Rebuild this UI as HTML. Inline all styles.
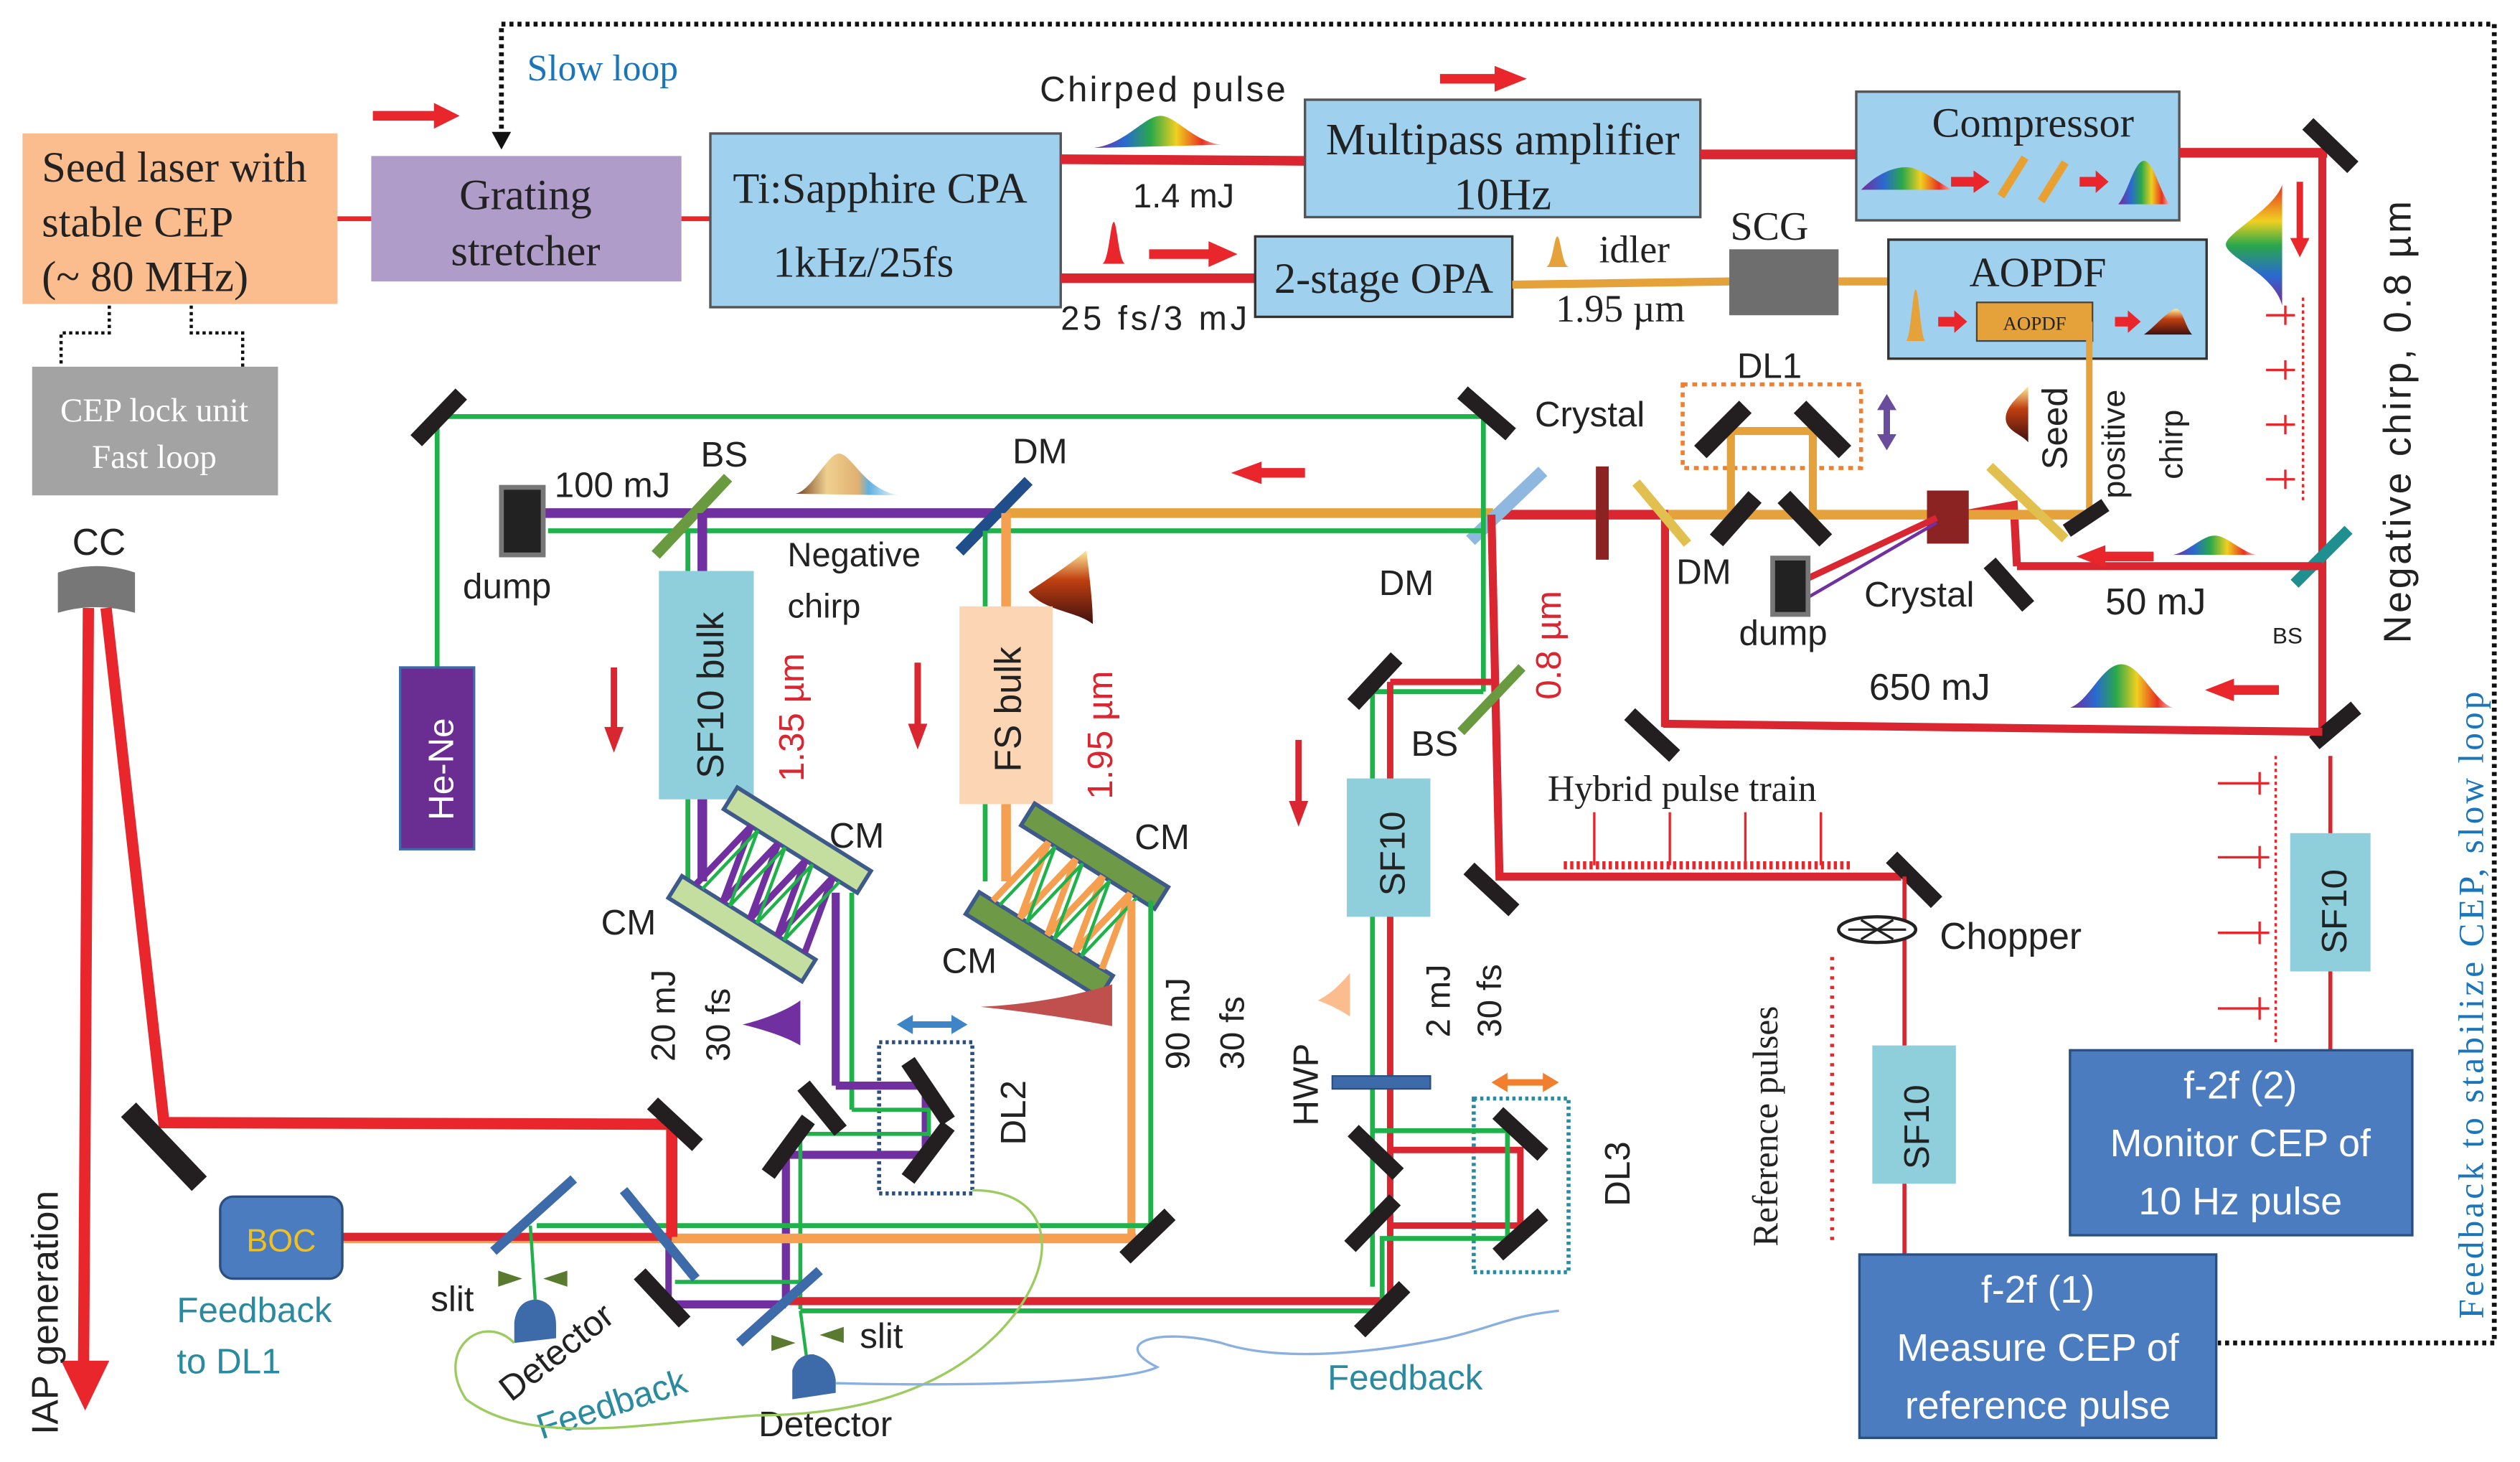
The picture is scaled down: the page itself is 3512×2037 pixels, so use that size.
<!DOCTYPE html>
<html><head><meta charset="utf-8"><style>
html,body{margin:0;padding:0;background:#fff;}
svg{display:block;}
.s{font-family:"Liberation Sans",sans-serif;}
.r{font-family:"Liberation Serif",serif;}
</style></head><body>
<svg width="3512" height="2037" viewBox="0 0 1568 909" preserveAspectRatio="none" xmlns="http://www.w3.org/2000/svg">
<defs>
<linearGradient id="rb" x1="0" x2="1" y1="0" y2="0">
<stop offset="0" stop-color="#7a2a9a"/><stop offset="0.25" stop-color="#2a6ad0"/><stop offset="0.45" stop-color="#2aa84a"/><stop offset="0.65" stop-color="#f0d020"/><stop offset="0.85" stop-color="#e83020"/><stop offset="1" stop-color="#f8c0c0"/></linearGradient>
<linearGradient id="rbv" x1="0" x2="0" y1="0" y2="1">
<stop offset="0" stop-color="#e83020"/><stop offset="0.3" stop-color="#f0d020"/><stop offset="0.5" stop-color="#2aa84a"/><stop offset="0.75" stop-color="#2a6ad0"/><stop offset="1" stop-color="#7a2a9a"/></linearGradient>
<linearGradient id="br" x1="0" x2="0" y1="0" y2="1"><stop offset="0" stop-color="#fff0a0"/><stop offset="0.4" stop-color="#c04010"/><stop offset="1" stop-color="#401010"/></linearGradient>
<linearGradient id="nc" x1="0" x2="1"><stop offset="0" stop-color="#704020"/><stop offset="0.3" stop-color="#f0d090"/><stop offset="0.6" stop-color="#e0b070"/><stop offset="0.7" stop-color="#60b0e0"/><stop offset="1" stop-color="#fff"/></linearGradient>
</defs>

<polyline points="312,85 312,15 1552,15 1552,835 1380,835" fill="none" stroke="#111" stroke-width="3" stroke-dasharray="2.5,2.5"/>
<polygon points="306,82 318,82 312,93" fill="#111"/>
<text x="328" y="50" class="r" font-size="23" fill="#1b75bb">Slow loop</text>

<rect x="14" y="83" width="196" height="106" fill="#fbbd8d"/>
<text class="r" font-size="27" fill="#222"><tspan x="26" y="113">Seed laser with</tspan><tspan x="26" y="147">stable CEP</tspan><tspan x="26" y="181">(~ 80 MHz)</tspan></text>
<line x1="210" y1="136" x2="231" y2="136" stroke="#e8262b" stroke-width="3"/>
<rect x="231" y="97" width="193" height="78" fill="#b09cc8"/>
<text class="r" font-size="27" fill="#222" text-anchor="middle"><tspan x="327" y="130">Grating</tspan><tspan x="327" y="165">stretcher</tspan></text>
<line x1="424" y1="136" x2="442" y2="136" stroke="#e8262b" stroke-width="3"/>
<rect x="442" y="83" width="218" height="108" fill="#9fd0ee" stroke="#555" stroke-width="1.5"/>
<text class="r" font-size="27" fill="#222"><tspan x="456" y="126">Ti:Sapphire CPA</tspan><tspan x="481" y="172">1kHz/25fs</tspan></text>
<polygon points="232,69 270,69 270,64 286,72 270,80 270,75 232,75" fill="#e8262b"/>

<rect x="20" y="228" width="153" height="80" fill="#a3a3a3"/>
<text class="r" font-size="21" fill="#fff" text-anchor="middle"><tspan x="96" y="262">CEP lock unit</tspan><tspan x="96" y="291">Fast loop</tspan></text>
<polyline points="68,190 68,207 38,207 38,228" fill="none" stroke="#111" stroke-width="2" stroke-dasharray="2,2"/>
<polyline points="119,190 119,207 151,207 151,228" fill="none" stroke="#111" stroke-width="2" stroke-dasharray="2,2"/>

<line x1="660" y1="99" x2="812" y2="100" stroke="#d92630" stroke-width="6"/>
<text x="647" y="63" class="s" font-size="22" fill="#222" textLength="153">Chirped pulse</text>
<path d="M680,92 C700,90 712,72 722,72 C732,72 742,88 760,90 Z" fill="url(#rb)"/>
<text x="705" y="129" class="s" font-size="21" fill="#222">1.4 mJ</text>
<rect x="812" y="62" width="246" height="73" fill="#9fd0ee" stroke="#555" stroke-width="1.5"/>
<text class="r" font-size="28" fill="#222" text-anchor="middle"><tspan x="935" y="96">Multipass amplifier</tspan><tspan x="935" y="130">10Hz</tspan></text>
<polygon points="896,46 930,46 930,41 950,49 930,57 930,52 896,52" fill="#e8262b"/>
<line x1="1058" y1="96" x2="1155" y2="96" stroke="#d92630" stroke-width="6"/>
<rect x="1155" y="57" width="201" height="80" fill="#9fd0ee" stroke="#555" stroke-width="1.5"/>
<text x="1265" y="85" class="r" font-size="26" fill="#222" text-anchor="middle">Compressor</text>
<path d="M1158,118 C1168,108 1178,104 1186,104 C1196,104 1206,114 1215,118 Z" fill="url(#rb)"/>
<polygon points="1214,110 1228,110 1228,106 1238,113 1228,120 1228,116 1214,116" fill="#e8262b"/>
<line x1="1245" y1="122" x2="1260" y2="98" stroke="#e8a030" stroke-width="5"/>
<line x1="1270" y1="125" x2="1285" y2="101" stroke="#e8a030" stroke-width="5"/>
<polygon points="1294,110 1304,110 1304,106 1312,113 1304,120 1304,116 1294,116" fill="#e8262b"/>
<path d="M1318,127 C1324,120 1328,100 1334,100 C1340,100 1344,120 1350,127 Z" fill="url(#rb)"/>
<line x1="1356" y1="95" x2="1448" y2="95" stroke="#d92630" stroke-width="6"/>

<line x1="660" y1="173" x2="781" y2="173" stroke="#d92630" stroke-width="6"/>
<path d="M686,164 C690,162 691,138 693,138 C695,138 696,162 700,164 Z" fill="#e8262b"/>
<polygon points="715,155 752,155 752,150 770,158 752,166 752,161 715,161" fill="#e8262b"/>
<text x="660" y="205" class="s" font-size="21" fill="#222" textLength="116">25 fs/3 mJ</text>
<rect x="781" y="147" width="160" height="50" fill="#9fd0ee" stroke="#333" stroke-width="1.5"/>
<text x="861" y="182" class="r" font-size="27" fill="#222" text-anchor="middle">2-stage OPA</text>
<line x1="941" y1="177" x2="1077" y2="175" stroke="#e6a23a" stroke-width="5"/>
<path d="M962,166 C966,165 967,147 969,147 C971,147 972,165 976,166 Z" fill="#e6a23a"/>
<text x="995" y="163" class="r" font-size="24" fill="#222">idler</text>
<text x="968" y="200" class="r" font-size="24" fill="#222">1.95 µm</text>
<text x="1101" y="149" class="r" font-size="25" fill="#222" text-anchor="middle">SCG</text>
<rect x="1076" y="155" width="68" height="41" fill="#6e6e6e"/>
<line x1="1144" y1="175" x2="1175" y2="175" stroke="#e6a23a" stroke-width="5"/>
<rect x="1175" y="149" width="198" height="74" fill="#9fd0ee" stroke="#333" stroke-width="1.5"/>
<text x="1268" y="178" class="r" font-size="26" fill="#222" text-anchor="middle">AOPDF</text>
<path d="M1186,212 C1189,210 1190,180 1192,180 C1194,180 1195,210 1198,212 Z" fill="#e6a23a"/>
<polygon points="1206,197 1216,197 1216,193 1224,200 1216,207 1216,203 1206,203" fill="#e8262b"/>
<rect x="1230" y="188" width="72" height="24" fill="#e6a23a" stroke="#444" stroke-width="1"/>
<text x="1266" y="205" class="r" font-size="12" fill="#222" text-anchor="middle">AOPDF</text>
<polygon points="1316,197 1324,197 1324,193 1332,200 1324,207 1324,203 1316,203" fill="#e8262b"/>
<path d="M1334,208 C1340,204 1350,192 1354,192 C1358,192 1360,204 1364,208 Z" fill="url(#br)"/>

<line x1="1445" y1="95" x2="1445" y2="455" stroke="#d92630" stroke-width="5"/>
<line x1="1436" y1="77" x2="1464" y2="104" stroke="#231f20" stroke-width="10"/>
<path d="M1420,115 C1415,130 1385,145 1385,152 C1385,160 1415,170 1420,190 Z" fill="url(#rbv)"/>
<polygon points="1429,113 1433,113 1433,148 1437,148 1431,160 1425,148 1429,148" fill="#e8262b"/>
<text transform="translate(1500,400) rotate(-90)" class="s" font-size="24" fill="#222" textLength="275">Negative chirp, 0.8 µm</text>
<g stroke="#e8262b" stroke-width="1.5">
<line x1="1433" y1="185" x2="1433" y2="312" stroke-dasharray="2,2"/>
<line x1="1410" y1="196" x2="1428" y2="196"/><line x1="1422" y1="190" x2="1422" y2="202"/>
<line x1="1410" y1="230" x2="1428" y2="230"/><line x1="1422" y1="224" x2="1422" y2="236"/>
<line x1="1410" y1="264" x2="1428" y2="264"/><line x1="1422" y1="258" x2="1422" y2="270"/>
<line x1="1410" y1="298" x2="1428" y2="298"/><line x1="1422" y1="292" x2="1422" y2="304"/>
</g>
<line x1="1423" y1="356" x2="1466" y2="336" stroke="#1f8f8f" stroke-width="7" transform="rotate(-20 1445 346)"/>
<text x="1414" y="400" class="s" font-size="14" fill="#222">BS</text>
<line x1="1445" y1="352" x2="1255" y2="352" stroke="#d92630" stroke-width="5"/>
<polygon points="1340,343 1310,343 1310,339 1292,346 1310,353 1310,349 1340,349" fill="#e8262b"/>
<path d="M1352,345 C1362,343 1370,333 1378,333 C1386,333 1394,343 1404,345 Z" fill="url(#rb)"/>
<text x="1310" y="382" class="s" font-size="23" fill="#222">50 mJ</text>
<polyline points="1255,352 1253,314 1210,322" fill="none" stroke="#d92630" stroke-width="5"/>
<line x1="1238" y1="350" x2="1262" y2="377" stroke="#231f20" stroke-width="10"/>
<line x1="1440" y1="462" x2="1466" y2="440" stroke="#231f20" stroke-width="10"/>
<line x1="1445" y1="455" x2="1035" y2="450" stroke="#d92630" stroke-width="5"/>
<polygon points="1418,426 1390,426 1390,422 1372,429 1390,436 1390,432 1418,432" fill="#e8262b"/>
<path d="M1288,440 C1300,436 1308,413 1320,413 C1332,413 1340,436 1352,440 Z" fill="url(#rb)"/>
<text x="1163" y="435" class="s" font-size="23" fill="#222">650 mJ</text>
<line x1="1036" y1="320" x2="1036" y2="452" stroke="#d92630" stroke-width="5"/>
<line x1="1014" y1="444" x2="1042" y2="470" stroke="#231f20" stroke-width="10"/>
<line x1="1450" y1="470" x2="1450" y2="653" stroke="#d92630" stroke-width="2.5"/>
<rect x="1425" y="518" width="50" height="86" fill="#8fcfdc"/>
<text transform="translate(1460,593) rotate(-90)" class="s" font-size="22" fill="#222">SF10</text>
<g stroke="#e8262b" stroke-width="1.5">
<line x1="1416" y1="470" x2="1416" y2="648" stroke-dasharray="2,2"/>
<line x1="1380" y1="487" x2="1412" y2="487"/><line x1="1406" y1="480" x2="1406" y2="494"/>
<line x1="1380" y1="533" x2="1412" y2="533"/><line x1="1406" y1="526" x2="1406" y2="540"/>
<line x1="1380" y1="580" x2="1412" y2="580"/><line x1="1406" y1="573" x2="1406" y2="587"/>
<line x1="1380" y1="627" x2="1412" y2="627"/><line x1="1406" y1="620" x2="1406" y2="634"/>
</g>
<rect x="1288" y="653" width="213" height="115" fill="#4a7cbf" stroke="#2a4f80" stroke-width="1.5"/>
<text class="s" font-size="24" fill="#fff" text-anchor="middle"><tspan x="1394" y="683">f-2f (2)</tspan><tspan x="1394" y="719">Monitor CEP of</tspan><tspan x="1394" y="755">10 Hz pulse</tspan></text>
<text transform="translate(1545,820) rotate(-90)" class="r" font-size="22" fill="#1b75bb" textLength="390">Feedback to stabilize CEP, slow loop</text>

<line x1="318" y1="319" x2="623" y2="319" stroke="#7030a0" stroke-width="6"/>
<line x1="623" y1="319" x2="929" y2="319" stroke="#e6a23a" stroke-width="6"/>
<line x1="929" y1="320" x2="1038" y2="320" stroke="#d92630" stroke-width="6"/>
<line x1="1038" y1="320" x2="1300" y2="320" stroke="#e6a23a" stroke-width="6"/>
<polyline points="1300,200 1300,320" fill="none" stroke="#e6a23a" stroke-width="4"/>
<line x1="1286" y1="330" x2="1310" y2="314" stroke="#231f20" stroke-width="9"/>
<rect x="1047" y="239" width="111" height="52" fill="none" stroke="#f08030" stroke-width="2.5" stroke-dasharray="3,3"/>
<text x="1101" y="235" class="s" font-size="22" fill="#222" text-anchor="middle">DL1</text>
<polyline points="1077,320 1077,268 1128,268 1128,320" fill="none" stroke="#e6a23a" stroke-width="5"/>
<line x1="1058" y1="281" x2="1086" y2="253" stroke="#231f20" stroke-width="11"/>
<line x1="1120" y1="253" x2="1148" y2="281" stroke="#231f20" stroke-width="11"/>
<line x1="1068" y1="336" x2="1092" y2="309" stroke="#231f20" stroke-width="11"/>
<line x1="1110" y1="309" x2="1136" y2="336" stroke="#231f20" stroke-width="11"/>
<polygon points="1174,245 1180,255 1176,255 1176,270 1180,270 1174,280 1168,270 1172,270 1172,255 1168,255" fill="#6a4c9c"/>
<text x="955" y="265" class="s" font-size="22" fill="#222">Crystal</text>
<rect x="993" y="290" width="8" height="58" fill="#8b2323"/>
<line x1="1018" y1="300" x2="1050" y2="338" stroke="#e2c050" stroke-width="6"/>
<text x="1043" y="363" class="s" font-size="22" fill="#222">DM</text>
<rect x="1199" y="305" width="26" height="33" fill="#8b2323"/>
<line x1="1238" y1="290" x2="1285" y2="335" stroke="#e2c050" stroke-width="6"/>
<polyline points="1124,360 1205,322" fill="none" stroke="#d92630" stroke-width="4"/>
<polyline points="1124,372 1205,325" fill="none" stroke="#7030a0" stroke-width="2"/>
<rect x="1103" y="347" width="22" height="35" fill="#222" stroke="#777" stroke-width="3"/>
<text x="1082" y="401" class="s" font-size="22" fill="#222">dump</text>
<text x="1160" y="377" class="s" font-size="22" fill="#222">Crystal</text>
<path d="M1262,275 C1258,270 1248,268 1248,260 C1248,252 1258,245 1262,240 Z" fill="url(#br)"/>
<text transform="translate(1286,292) rotate(-90)" class="s" font-size="22" fill="#222">Seed</text>
<text transform="translate(1322,310) rotate(-90)" class="s" font-size="20" fill="#222">positive</text>
<text transform="translate(1358,298) rotate(-90)" class="s" font-size="20" fill="#222">chirp</text>

<line x1="915" y1="336" x2="960" y2="293" stroke="#8fb8e0" stroke-width="8"/>
<text x="858" y="370" class="s" font-size="22" fill="#222">DM</text>
<polygon points="812,291 785,291 785,287 766,294 785,301 785,297 812,297" fill="#e8262b"/>
<text transform="translate(971,435) rotate(-90)" class="s" font-size="22" fill="#d92630">0.8 µm</text>

<polyline points="272,415 272,259 923,259 923,430" fill="none" stroke="#1fb24a" stroke-width="3"/>
<line x1="341" y1="330" x2="923" y2="330" stroke="#1fb24a" stroke-width="3"/>
<line x1="259" y1="274" x2="287" y2="245" stroke="#231f20" stroke-width="10"/>
<line x1="910" y1="244" x2="940" y2="270" stroke="#231f20" stroke-width="10"/>
<rect x="249" y="415" width="46" height="113" fill="#6a2d91" stroke="#3d6aa8" stroke-width="1.5"/>
<text transform="translate(282,510) rotate(-90)" class="s" font-size="22" fill="#fff">He-Ne</text>

<rect x="312" y="303" width="26" height="42" fill="#222" stroke="#777" stroke-width="3"/>
<text x="288" y="372" class="s" font-size="22" fill="#222">dump</text>
<text x="345" y="309" class="s" font-size="22" fill="#222">100 mJ</text>
<text x="436" y="290" class="s" font-size="22" fill="#222">BS</text>
<line x1="408" y1="345" x2="453" y2="297" stroke="#6a9a40" stroke-width="7"/>
<path d="M495,307 C505,305 515,282 522,282 C530,282 538,305 560,308 Z" fill="url(#nc)"/>
<text x="630" y="288" class="s" font-size="22" fill="#222">DM</text>
<line x1="597" y1="343" x2="640" y2="299" stroke="#1f4e8a" stroke-width="7"/>
<text class="s" font-size="21" fill="#222"><tspan x="490" y="352">Negative</tspan><tspan x="490" y="384">chirp</tspan></text>
<path d="M640,368 C652,360 670,348 676,342 C678,360 680,375 680,388 C670,380 650,380 640,368 Z" fill="url(#br)"/>

<line x1="428" y1="330" x2="428" y2="548" stroke="#1fb24a" stroke-width="3"/>
<line x1="437" y1="319" x2="437" y2="548" stroke="#7030a0" stroke-width="6"/>
<rect x="410" y="355" width="59" height="142" fill="#8fcfdc"/>
<text transform="translate(450,484) rotate(-90)" class="s" font-size="23" fill="#222">SF10 bulk</text>
<text transform="translate(500,486) rotate(-90)" class="s" font-size="22" fill="#d92630">1.35 µm</text>
<polygon points="380,415 384,415 384,452 388,452 382,468 376,452 380,452" fill="#d92630"/>
<g transform="rotate(32 480 550)">
<rect x="430" y="510" width="98" height="16" fill="#c4dea0" stroke="#3d5a8a" stroke-width="2.5"/>
<rect x="430" y="575" width="98" height="16" fill="#c4dea0" stroke="#3d5a8a" stroke-width="2.5"/>
<polyline points="440,575 450,526 460,575 470,526 480,575 490,526 500,575 510,526 520,575" fill="none" stroke="#7030a0" stroke-width="4"/>
<polyline points="445,575 455,526 465,575 475,526 485,575 495,526 505,575 515,526" fill="none" stroke="#1fb24a" stroke-width="2"/>
</g>
<text x="516" y="527" class="s" font-size="22" fill="#222">CM</text>
<text x="374" y="581" class="s" font-size="22" fill="#222">CM</text>
<line x1="520" y1="555" x2="520" y2="675" stroke="#7030a0" stroke-width="5"/>
<line x1="530" y1="555" x2="530" y2="690" stroke="#1fb24a" stroke-width="3"/>
<text transform="translate(420,660) rotate(-90)" class="s" font-size="21" fill="#222">20 mJ</text>
<text transform="translate(454,660) rotate(-90)" class="s" font-size="21" fill="#222">30 fs</text>
<path d="M462,637 C475,634 490,628 498,622 L498,650 C490,645 475,640 462,637 Z" fill="#7030a0"/>

<line x1="613" y1="330" x2="613" y2="548" stroke="#1fb24a" stroke-width="3"/>
<line x1="626" y1="319" x2="626" y2="548" stroke="#f4a050" stroke-width="6"/>
<rect x="597" y="377" width="58" height="123" fill="#fcd5b4"/>
<text transform="translate(635,480) rotate(-90)" class="s" font-size="23" fill="#222">FS bulk</text>
<text transform="translate(692,497) rotate(-90)" class="s" font-size="22" fill="#d92630">1.95 µm</text>
<polygon points="569,412 573,412 573,450 577,450 571,466 565,450 569,450" fill="#d92630"/>
<g transform="rotate(32 665 560)">
<rect x="615" y="520" width="98" height="16" fill="#6e9a48" stroke="#3d5a8a" stroke-width="2.5"/>
<rect x="615" y="585" width="98" height="16" fill="#6e9a48" stroke="#3d5a8a" stroke-width="2.5"/>
<polyline points="625,585 635,536 645,585 655,536 665,585 675,536 685,585 695,536 705,585" fill="none" stroke="#f4a050" stroke-width="4"/>
<polyline points="630,585 640,536 650,585 660,536 670,585 680,536 690,585 700,536" fill="none" stroke="#1fb24a" stroke-width="2"/>
</g>
<text x="706" y="528" class="s" font-size="22" fill="#222">CM</text>
<text x="586" y="605" class="s" font-size="22" fill="#222">CM</text>
<line x1="704" y1="560" x2="704" y2="768" stroke="#f4a050" stroke-width="5"/>
<line x1="716" y1="560" x2="716" y2="762" stroke="#1fb24a" stroke-width="3"/>
<path d="M610,626 C630,625 660,622 692,612 L692,638 C660,632 630,628 610,626 Z" fill="#c0504d"/>
<text transform="translate(740,665) rotate(-90)" class="s" font-size="21" fill="#222">90 mJ</text>
<text transform="translate(774,665) rotate(-90)" class="s" font-size="21" fill="#222">30 fs</text>

<rect x="547" y="648" width="58" height="94" fill="none" stroke="#2d4f80" stroke-width="2.5" stroke-dasharray="2,2"/>
<polygon points="558,637 568,631 568,635 592,635 592,631 602,637 592,643 592,639 568,639 568,643" fill="#3d85c6"/>
<text transform="translate(638,712) rotate(-90)" class="s" font-size="22" fill="#222">DL2</text>
<polyline points="520,675 576,675 576,718 489,718 489,811" fill="none" stroke="#7030a0" stroke-width="5"/>
<polyline points="530,690 578,690 578,705 498,705 498,814" fill="none" stroke="#1fb24a" stroke-width="2.5"/>
<line x1="565" y1="660" x2="590" y2="697" stroke="#231f20" stroke-width="10"/>
<line x1="565" y1="733" x2="590" y2="700" stroke="#231f20" stroke-width="10"/>
<line x1="500" y1="675" x2="523" y2="703" stroke="#231f20" stroke-width="10"/>
<line x1="478" y1="730" x2="503" y2="696" stroke="#231f20" stroke-width="10"/>

<line x1="334" y1="762" x2="716" y2="762" stroke="#1fb24a" stroke-width="3"/>
<line x1="213" y1="770" x2="707" y2="770" stroke="#f4a050" stroke-width="6"/>
<line x1="213" y1="769" x2="418" y2="769" stroke="#d92630" stroke-width="5"/>
<line x1="700" y1="782" x2="728" y2="755" stroke="#231f20" stroke-width="10"/>
<polyline points="416,811 489,811" fill="none" stroke="#7030a0" stroke-width="5"/>
<line x1="416" y1="775" x2="416" y2="811" stroke="#7030a0" stroke-width="4"/>
<line x1="420" y1="797" x2="498" y2="797" stroke="#1fb24a" stroke-width="2.5"/>
<line x1="489" y1="809" x2="860" y2="809" stroke="#d92630" stroke-width="5"/>
<line x1="498" y1="815" x2="860" y2="815" stroke="#1fb24a" stroke-width="3"/>

<text x="45" y="345" class="s" font-size="23" fill="#222">CC</text>
<path d="M36,356 Q60,348 84,356 L84,381 Q60,374 36,381 Z" fill="#777"/>
<polyline points="55,378 52,848" fill="none" stroke="#e8262b" stroke-width="7"/>
<polygon points="38,846 68,846 53,877" fill="#e8262b"/>
<polyline points="66,378 102,698 418,699 418,769" fill="none" stroke="#e8262b" stroke-width="7"/>
<line x1="80" y1="690" x2="124" y2="736" stroke="#231f20" stroke-width="13"/>
<line x1="406" y1="686" x2="434" y2="712" stroke="#231f20" stroke-width="10"/>
<line x1="398" y1="792" x2="426" y2="822" stroke="#231f20" stroke-width="10"/>
<text transform="translate(36,892) rotate(-90)" class="s" font-size="23" fill="#222">IAP generation</text>
<rect x="137" y="744" width="76" height="51" rx="8" fill="#4a7cbf" stroke="#2a4f80" stroke-width="1.5"/>
<text x="175" y="778" class="s" font-size="20" fill="#f0c020" text-anchor="middle">BOC</text>
<text class="s" font-size="22" fill="#2a8aa0"><tspan x="110" y="822">Feedback</tspan><tspan x="110" y="854">to DL1</tspan></text>

<line x1="307" y1="778" x2="357" y2="733" stroke="#3d6aa8" stroke-width="6"/>
<line x1="388" y1="740" x2="433" y2="795" stroke="#3d6aa8" stroke-width="6"/>
<line x1="460" y1="835" x2="510" y2="790" stroke="#3d6aa8" stroke-width="6"/>
<line x1="330" y1="762" x2="333" y2="808" stroke="#1fb24a" stroke-width="2"/>
<line x1="498" y1="815" x2="502" y2="845" stroke="#1fb24a" stroke-width="2"/>
<polygon points="310,790 325,795 310,800" fill="#5a7a30"/><polygon points="353,790 338,795 353,800" fill="#5a7a30"/>
<polygon points="480,830 495,835 480,840" fill="#5a7a30"/><polygon points="525,825 510,830 525,835" fill="#5a7a30"/>
<path d="M320,835 L320,822 Q322,808 334,808 Q346,810 346,824 L346,832 Z" fill="#3d6aa8"/>
<path d="M493,870 L493,852 Q496,842 506,842 Q518,845 520,858 L520,866 Z" fill="#3d6aa8"/>
<text x="268" y="815" class="s" font-size="22" fill="#222">slit</text>
<text x="535" y="838" class="s" font-size="22" fill="#222">slit</text>
<text transform="translate(318,872) rotate(-38)" class="s" font-size="22" fill="#222">Detector</text>
<text x="472" y="893" class="s" font-size="22" fill="#222">Detector</text>
<text transform="translate(337,895) rotate(-18)" class="s" font-size="22" fill="#2a8aa0">Feedback</text>
<path d="M605,740 C660,740 660,790 620,830 C580,870 520,880 470,880 C400,885 330,900 290,870 C270,840 300,815 320,835" fill="none" stroke="#9ccc60" stroke-width="1.5"/>
<path d="M520,860 C600,862 700,860 720,850 C690,835 720,825 760,835 C800,848 860,840 900,832 C930,825 940,818 970,815" fill="none" stroke="#8ab0e0" stroke-width="1.5"/>
<text x="826" y="864" class="s" font-size="22" fill="#2a8aa0">Feedback</text>

<polyline points="928,320 933,545 1183,545" fill="none" stroke="#d92630" stroke-width="5"/>
<polyline points="865,424 930,424" fill="none" stroke="#d92630" stroke-width="4"/>
<polyline points="923,430 854,430 854,800" fill="none" stroke="#1fb24a" stroke-width="3"/>
<line x1="865" y1="424" x2="865" y2="809" stroke="#d92630" stroke-width="4"/>
<line x1="909" y1="455" x2="947" y2="415" stroke="#6a9a40" stroke-width="6"/>
<text x="878" y="470" class="s" font-size="22" fill="#222">BS</text>
<line x1="842" y1="438" x2="869" y2="409" stroke="#231f20" stroke-width="10"/>
<rect x="838" y="484" width="52" height="86" fill="#8fcfdc"/>
<text transform="translate(874,557) rotate(-90)" class="s" font-size="22" fill="#222">SF10</text>
<polygon points="806,460 810,460 810,498 814,498 808,514 802,498 806,498" fill="#d92630"/>
<path d="M820,622 C828,618 834,612 840,605 L840,632 C834,628 828,625 820,622 Z" fill="#fbbd8d"/>
<text transform="translate(902,645) rotate(-90)" class="s" font-size="21" fill="#222">2 mJ</text>
<text transform="translate(934,645) rotate(-90)" class="s" font-size="21" fill="#222">30 fs</text>
<rect x="829" y="669" width="61" height="8" fill="#3d6aa8" stroke="#2a4f80"/>
<text transform="translate(820,700) rotate(-90)" class="s" font-size="22" fill="#222">HWP</text>
<rect x="917" y="683" width="59" height="108" fill="none" stroke="#2a8aa0" stroke-width="2.5" stroke-dasharray="2,2"/>
<polygon points="928,673 938,667 938,671 960,671 960,667 970,673 960,679 960,675 938,675 938,679" fill="#f08030"/>
<text transform="translate(1014,750) rotate(-90)" class="s" font-size="22" fill="#222">DL3</text>
<polyline points="865,715 946,715 946,762 865,762" fill="none" stroke="#d92630" stroke-width="4"/>
<polyline points="854,703 938,703 938,770 860,770 860,815" fill="none" stroke="#1fb24a" stroke-width="3"/>
<line x1="842" y1="703" x2="870" y2="730" stroke="#231f20" stroke-width="10"/>
<line x1="932" y1="692" x2="960" y2="718" stroke="#231f20" stroke-width="10"/>
<line x1="840" y1="775" x2="868" y2="746" stroke="#231f20" stroke-width="10"/>
<line x1="932" y1="780" x2="960" y2="755" stroke="#231f20" stroke-width="10"/>
<line x1="846" y1="828" x2="874" y2="800" stroke="#231f20" stroke-width="10"/>

<text x="963" y="498" class="r" font-size="23" fill="#222">Hybrid pulse train</text>
<g stroke="#e8262b" stroke-width="1.5">
<line x1="973" y1="538" x2="1152" y2="538" stroke-dasharray="2,2" stroke-width="5"/>
<line x1="992" y1="505" x2="992" y2="538"/><line x1="1039" y1="505" x2="1039" y2="538"/><line x1="1086" y1="505" x2="1086" y2="538"/><line x1="1133" y1="505" x2="1133" y2="538"/>
</g>
<line x1="914" y1="540" x2="942" y2="566" stroke="#231f20" stroke-width="10"/>
<line x1="1177" y1="533" x2="1205" y2="561" stroke="#231f20" stroke-width="10"/>
<line x1="1185" y1="545" x2="1185" y2="780" stroke="#d92630" stroke-width="2.5"/>
<ellipse cx="1168" cy="578" rx="24" ry="8" fill="#fff" stroke="#222" stroke-width="2"/>
<g stroke="#222" stroke-width="1.5"><line x1="1150" y1="578" x2="1186" y2="578"/><line x1="1158" y1="572" x2="1178" y2="584"/><line x1="1158" y1="584" x2="1178" y2="572"/></g>
<text x="1207" y="590" class="s" font-size="23" fill="#222">Chopper</text>
<line x1="1140" y1="595" x2="1140" y2="775" stroke="#e8262b" stroke-width="2.5" stroke-dasharray="2,4"/>
<text transform="translate(1106,775) rotate(-90)" class="r" font-size="22" fill="#222">Reference pulses</text>
<rect x="1165" y="650" width="52" height="86" fill="#8fcfdc"/>
<text transform="translate(1200,727) rotate(-90)" class="s" font-size="22" fill="#222">SF10</text>
<rect x="1157" y="780" width="222" height="114" fill="#4a7cbf" stroke="#2a4f80" stroke-width="1.5"/>
<text class="s" font-size="24" fill="#fff" text-anchor="middle"><tspan x="1268" y="810">f-2f (1)</tspan><tspan x="1268" y="846">Measure CEP of</tspan><tspan x="1268" y="882">reference pulse</tspan></text>
</svg>
</body></html>
